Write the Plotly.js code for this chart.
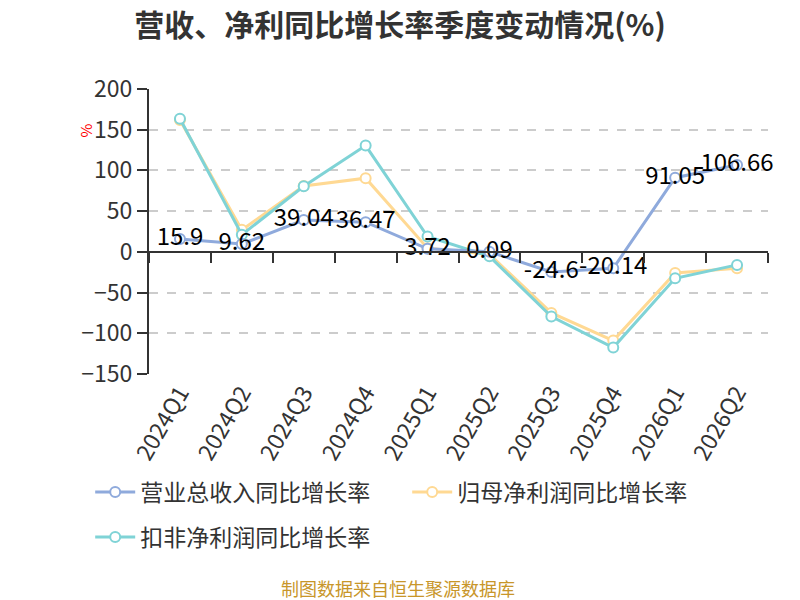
<!DOCTYPE html>
<html>
<head>
<meta charset="utf-8">
<script src="https://cdn.plot.ly/plotly-3.0.1.min.js"></script>
<style>
  html, body { margin: 0; padding: 0; background: #fff; }
  #chart { width: 800px; height: 600px; }
</style>
</head>
<body>
<div id="chart"></div>
<script>
// 季度
const quarters = ["2024Q1", "2024Q2", "2024Q3", "2024Q4", "2025Q1", "2025Q2", "2025Q3", "2025Q4", "2026Q1", "2026Q2"];

// 营业总收入同比增长率
const revenueGrowth = [15.9, 9.62, 39.04, 36.47, 3.72, 0.09, -24.6, -20.14, 91.05, 106.66];
// 归母净利润同比增长率
const netProfitGrowth = [162, 27, 81, 90.5, 4.5, -3, -75, -109, -26, -20];
// 扣非净利润同比增长率
const deductedProfitGrowth = [163.5, 21, 80.5, 130.5, 18.8, -5.5, -79.5, -117.5, -32.5, -16];

const seriesNames = ["营业总收入同比增长率", "归母净利润同比增长率", "扣非净利润同比增长率"];
const colors = ["#8faadc", "#ffd993", "#7fd3d6"];

const font = '"Noto Sans CJK SC", "Noto Sans", sans-serif';

function lineTrace(name, values, color, withText, rank, legendId) {
  return {
    x: quarters,
    y: values,
    name: name,
    legend: legendId,
    legendrank: rank,
    type: "scatter",
    mode: withText ? "lines+markers+text" : "lines+markers",
    line: { color: color, width: 3 },
    marker: { symbol: "circle", size: 10, color: "#ffffff", line: { color: color, width: 2 } },
    text: withText ? values.map(v => String(v)) : undefined,
    textposition: "middle center",
    textfont: { family: font, size: 24, color: "#000000" },
    cliponaxis: false,
    hoverinfo: "x+y+name"
  };
}

const traces = [
  lineTrace(seriesNames[1], netProfitGrowth, colors[1], false, 2, "legend"),
  lineTrace(seriesNames[2], deductedProfitGrowth, colors[2], false, 3, "legend2"),
  lineTrace(seriesNames[0], revenueGrowth, colors[0], true, 1, "legend"),
  // invisible helper so the zero-line axis gets its categories
  { x: quarters, y: quarters.map(() => null), xaxis: "x2", type: "scatter", mode: "lines", showlegend: false, hoverinfo: "skip" }
];

const yMin = -150, yMax = 200;

const legendBase = {
  orientation: "h",
  x: -0.095, xanchor: "left",
  yanchor: "middle",
  font: { family: font, size: 23, color: "#333333" },
  traceorder: "normal",
  entrywidth: 262,
  itemwidth: 40
};

const layout = {
  width: 800,
  height: 600,
  paper_bgcolor: "#ffffff",
  plot_bgcolor: "#ffffff",
  font: { family: font, color: "#333333" },
  margin: { l: 149, r: 32, t: 89, b: 226 },
  title: {
    text: "<b>营收、净利同比增长率季度变动情况(%)</b>",
    font: { family: font, size: 30, color: "#333333" },
    x: 0.5, xanchor: "center", y: 0.958, yanchor: "middle"
  },
  showlegend: true,
  legend: Object.assign({}, legendBase, { y: (374 - 492) / 285 }),
  legend2: Object.assign({}, legendBase, { y: (374 - 537) / 285 }),
  xaxis: {
    type: "category",
    range: [-0.5, quarters.length - 0.5],
    showline: false,
    showgrid: false,
    zeroline: false,
    ticks: "",
    tickangle: -60,
    tickfont: { family: font, size: 23, color: "#333333" }
  },
  xaxis2: {
    type: "category",
    overlaying: "x",
    matches: "x",
    anchor: "free",
    position: (0 - yMin) / (yMax - yMin),
    showline: true,
    linecolor: "#333333",
    linewidth: 2,
    ticks: "outside",
    tickson: "boundaries",
    ticklen: 10,
    tickwidth: 2,
    tickcolor: "#333333",
    showticklabels: false,
    showgrid: false,
    zeroline: false
  },
  yaxis: {
    range: [yMin, yMax],
    tickvals: [-150, -100, -50, 0, 50, 100, 150, 200],
    showline: true,
    linecolor: "#333333",
    linewidth: 2,
    ticks: "outside",
    ticklen: 10,
    tickwidth: 2,
    tickcolor: "#333333",
    tickfont: { family: font, size: 23, color: "#333333" },
    showgrid: true,
    gridcolor: "#cccccc",
    gridwidth: 1.5,
    griddash: "dash",
    zeroline: false
  },
  annotations: [
    {
      text: "%",
      xref: "paper", yref: "y",
      x: -0.102, xanchor: "center",
      y: 149, yanchor: "middle",
      textangle: -90,
      showarrow: false,
      font: { family: font, size: 15, color: "#ff0000" }
    },
    {
      text: "制图数据来自恒生聚源数据库",
      xref: "paper", yref: "paper",
      x: 0.403, xanchor: "center",
      y: -0.75, yanchor: "middle",
      showarrow: false,
      font: { family: font, size: 18, color: "#c8962a" }
    }
  ]
};

Plotly.newPlot("chart", traces, layout, { displayModeBar: false, responsive: false });
</script>
</body>
</html>
